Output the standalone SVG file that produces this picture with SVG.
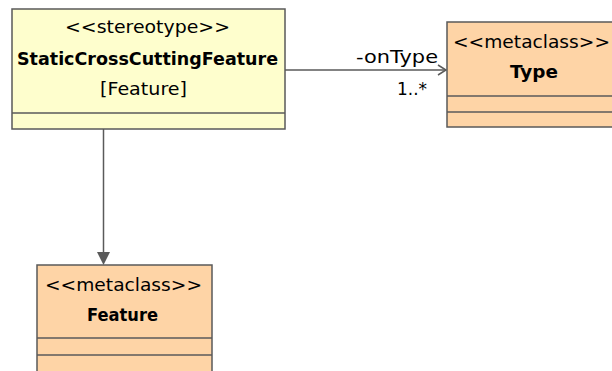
<svg xmlns="http://www.w3.org/2000/svg" width="612" height="371" viewBox="0 0 612 371">
<style>
.box{stroke:#5a5a5a;stroke-width:1.5}
.st{fill:#fefecd}
.mc{fill:#fed4a6}
.ln{stroke:#5a5a5a;stroke-width:1.5;fill:none}
text{font-family:"DejaVu Sans",Verdana,sans-serif;font-size:17px;fill:#000}
.b{font-weight:bold}
</style>
<rect width="612" height="371" fill="#fff"/>
<g id="connectors">
<line class="ln" x1="285" y1="70" x2="446" y2="70"/>
<polyline class="ln" points="438,65 446,70 438,75"/>
<text x="356" y="63" textLength="82" lengthAdjust="spacingAndGlyphs">-onType</text>
<text x="397" y="95" textLength="30" lengthAdjust="spacingAndGlyphs">1..*</text>
<line class="ln" x1="103.5" y1="129" x2="103.5" y2="253"/>
<polygon points="97,252 110,252 103.5,265" fill="#5a5a5a"/>
</g>
<g id="StaticCrossCuttingFeature">
<rect class="box st" x="12" y="9" width="273" height="120"/>
<line class="box" x1="12" y1="113" x2="285" y2="113"/>
<text x="65" y="33" textLength="165" lengthAdjust="spacingAndGlyphs">&lt;&lt;stereotype&gt;&gt;</text>
<text class="b" x="17" y="65" textLength="261" lengthAdjust="spacingAndGlyphs">StaticCrossCuttingFeature</text>
<text x="100" y="95" textLength="87" lengthAdjust="spacingAndGlyphs">[Feature]</text>
</g>
<g id="Type">
<rect class="box mc" x="447" y="22" width="170" height="105"/>
<line class="box" x1="447" y1="96" x2="617" y2="96"/>
<line class="box" x1="447" y1="112" x2="617" y2="112"/>
<text x="453" y="48" textLength="157" lengthAdjust="spacingAndGlyphs">&lt;&lt;metaclass&gt;&gt;</text>
<text class="b" x="510" y="78" textLength="48" lengthAdjust="spacingAndGlyphs">Type</text>
</g>
<g id="Feature">
<rect class="box mc" x="37" y="265" width="175" height="115"/>
<line class="box" x1="37" y1="338" x2="212" y2="338"/>
<line class="box" x1="37" y1="355" x2="212" y2="355"/>
<text x="45" y="291" textLength="157" lengthAdjust="spacingAndGlyphs">&lt;&lt;metaclass&gt;&gt;</text>
<text class="b" x="87" y="321" textLength="71" lengthAdjust="spacingAndGlyphs">Feature</text>
</g>
</svg>
